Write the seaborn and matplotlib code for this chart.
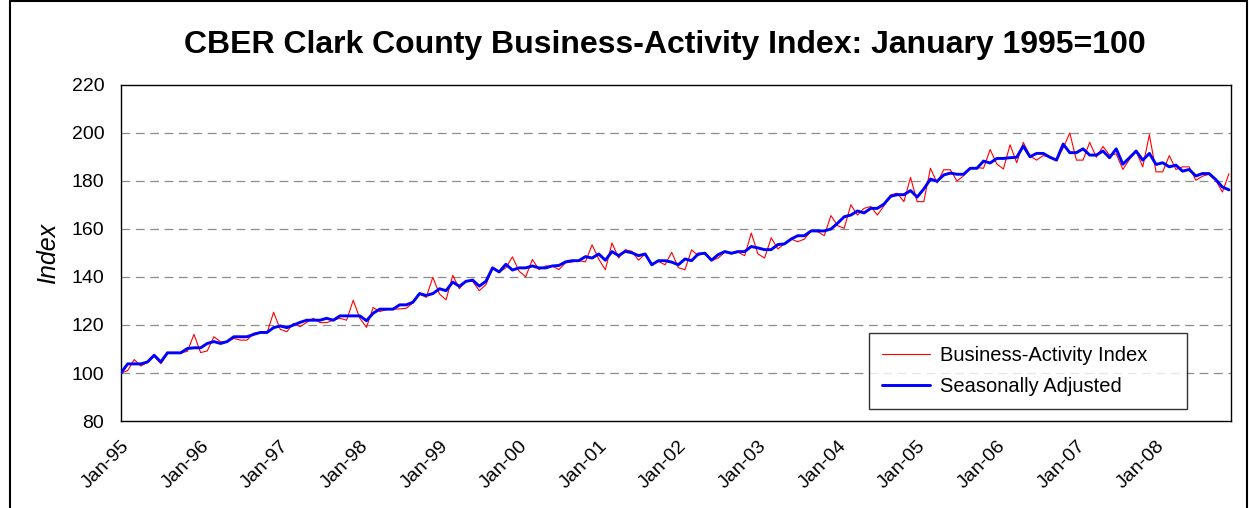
import numpy as np
import pandas as pd
import matplotlib
matplotlib.use("Agg")
import matplotlib.pyplot as plt
from matplotlib.lines import Line2D
import seaborn as sns

# ---------------- data ----------------
start_month = "1995-01"
n_months = 168  # Jan-95 .. Dec-08

business_activity = [
    100, 101, 105.6, 102.9, 104.6, 107, 103.9, 108.1, 108.4, 108.4, 109, 116.1,
    108.5, 109.2, 115.1, 113, 113, 114.4, 113.7, 113.7,
    116.6, 116.9, 116.6, 125.3, 118.2, 117.2, 120.7, 119.3, 121.1, 122.8, 121, 121,
    122, 122.8, 122,
    130.3, 122.8, 119, 127.3, 125.6, 126.4, 126.6, 126.7, 127, 129.2, 132.9, 131.5,
    139.9, 132.9, 130.5, 140.7, 135.1, 138.5, 138.2, 134.3, 136.8, 143.8, 142.1, 143.8,
    148.4, 142.4, 140.1, 147.3, 143.1, 144.6, 144.6, 143.1, 145.9,
    146.3, 146.8, 146.3, 153.4, 147.5, 143, 154.2, 147.9, 151.4, 150.7, 147, 149.6,
    145.4, 146.5, 145.1, 150.3, 143.9, 143, 151.3, 148.9, 150.3, 146.8, 147.9, 150.3,
    149.6, 150.3, 148.9, 158.3, 149.6, 147.9, 156.3, 151.7, 153.8, 155.8,
    154.7, 155.8, 159.2, 158.9, 157.2, 165.6, 161.4, 160.3, 170.1, 165.8, 168.6, 169.4,
    165.8, 169.7, 174.2, 174.9, 171.4, 181.5, 171.4, 171.4, 185.3, 179.2, 184.7, 184.7,
    180, 182.2, 185.6, 185.6, 185.3, 193.1, 187.1, 185,
    195.1, 187.6, 196.1, 190.4, 188.7, 190.6, 189.9, 188.7, 193.7, 200, 188.7, 188.7,
    196.1, 189.9, 194.4, 190.8, 191.3, 184.8, 189, 192.3, 185.9, 199.3, 183.8, 183.8,
    190.6, 184.8, 185.9, 185.9, 180.3, 182, 182.8, 180.3, 175.4, 183.1,
]

seasonally_adjusted = [
    100, 103.8, 103.8, 103.8, 104.6, 107.4, 104.6, 108.4, 108.4, 108.4, 110.2, 110.5,
    110.5, 112.3, 113.1, 112.3, 113.1, 115.1, 115.1, 115.1, 116.1, 116.9, 116.9, 118.9,
    119.6, 118.9, 120, 121.1, 122, 122, 122, 122.8, 122, 123.8, 123.8,
    123.8, 123.8, 121.8, 124.9, 126.6, 126.6, 126.6, 128.4, 128.4, 129.5, 133.1, 132.3,
    133.1, 135.1, 134.3, 137.9, 136.1, 138.2, 138.7, 136.2, 138.2, 143.8, 142.1, 145.3,
    142.9, 143.8, 143.8, 144.6, 143.8, 143.8, 144.6, 144.8, 146.3,
    146.8, 146.8, 148.5, 147.9, 149.6, 147, 150.6, 148.9, 150.7, 150.1, 148.9, 149.6,
    145.1, 146.8, 146.8, 146.2, 145.1, 147.5, 146.8, 149.6, 149.9, 147, 149.3, 150.6,
    149.9, 150.6, 150.6, 152.7, 152.1, 151.4, 151.4, 153.5, 153.8, 155.8,
    157.2, 157.2, 159.2, 159.2, 159.2, 160, 162.4, 165.1, 165.8, 167.5, 166.7, 168.6,
    168.6, 170.4, 173.6, 174.3, 174.3, 176, 173.3, 176.7, 180.8, 179.9, 182.5, 183.3,
    182.8, 182.8, 185.3, 185.3, 188.3, 187.5, 189.4, 189.4,
    189.7, 189.9, 194.6, 190.1, 191.5, 191.5, 189.9, 188.7, 195.4, 191.8, 191.8, 193.4,
    190.8, 190.8, 192.5, 189.7, 193.4, 187, 189.7, 192.5, 188.7, 191.5, 186.9, 187.6,
    185.9, 186.6, 184.1, 184.8, 182.1, 183.1, 183.1, 180.6, 177.5, 176.3,
]

tick_labels = ["Jan-95", "Jan-96", "Jan-97", "Jan-98", "Jan-99", "Jan-00", "Jan-01",
               "Jan-02", "Jan-03", "Jan-04", "Jan-05", "Jan-06", "Jan-07", "Jan-08"]
y_ticks = [80, 100, 120, 140, 160, 180, 200, 220]

title = "CBER Clark County Business-Activity Index: January 1995=100"
series_names = ["Business-Activity Index", "Seasonally Adjusted"]

# ---------------- build frame ----------------
dates = pd.date_range(start_month, periods=n_months, freq="MS")
df = pd.DataFrame({
    "pos": np.arange(n_months),
    "date": dates,
    series_names[0]: business_activity,
    series_names[1]: seasonally_adjusted,
})

# ---------------- style ----------------
sns.set_style("white")
plt.rcParams["font.family"] = ["Liberation Sans", "DejaVu Sans"]
plt.rcParams["text.color"] = "black"
plt.rcParams["axes.labelcolor"] = "black"
plt.rcParams["xtick.color"] = "black"
plt.rcParams["ytick.color"] = "black"

W, H = 1249, 508
fig = plt.figure(figsize=(W / 100, H / 100), dpi=100)
ax = fig.add_axes([121 / W, 1 - 421 / H, 1110 / W, 336 / H])

# grid
for yv in y_ticks[1:-1]:
    ax.axhline(yv, color="#8c8c8c", lw=0.9, dashes=(7, 4.5), zorder=0)

sns.lineplot(data=df, x="pos", y=series_names[0], ax=ax, color="#ff0000",
             linewidth=0.8, label=series_names[0], zorder=2)
sns.lineplot(data=df, x="pos", y=series_names[1], ax=ax, color="#0000ff",
             linewidth=2.1, label=series_names[1], zorder=3)

ax.set_xlim(0, n_months - 1 + 0.3)
ax.set_ylim(80, 220)
ax.set_yticks(y_ticks)
ax.set_yticklabels([str(v) for v in y_ticks], fontsize=14, color="black")
ax.set_xticks(np.arange(0, n_months, 12))
ax.set_xticklabels(tick_labels, fontsize=14, rotation=45, ha="right",
                   rotation_mode="anchor", color="black")
ax.tick_params(axis="both", length=0)
ax.tick_params(axis="y", pad=12)
ax.tick_params(axis="x", pad=12)
ax.set_xlabel("")
ax.set_ylabel("Index", fontsize=18, fontstyle="italic", labelpad=8.5, color="black")
for s in ax.spines.values():
    s.set_color("black")
    s.set_linewidth(1.0)

# legend
leg = ax.legend(
    handles=[Line2D([], [], color="#ff0000", lw=0.8),
             Line2D([], [], color="#0000ff", lw=2.1)],
    labels=series_names,
    loc="upper left", bbox_to_anchor=(869 / W, 1 - 409 / H, 318 / W, 76 / H),
    bbox_transform=fig.transFigure, mode="expand", borderaxespad=0, fontsize=14.5,
    frameon=True, fancybox=False, shadow=False, handlelength=2.4,
    handletextpad=0.5, labelspacing=0.6, borderpad=0.65,
)
leg.get_frame().set_edgecolor("black")
leg.get_frame().set_linewidth(1.0)
for t in leg.get_texts():
    t.set_color("black")

# title
fig.text(665 / W, 1 - 45 / H, title, ha="center", va="center",
         fontsize=23, fontweight="bold", color="black")

# outer chart border
fig.add_artist(Line2D([9.5 / W, 9.5 / W], [0, 1 - 1 / H], transform=fig.transFigure,
                      color="black", lw=1.5))
fig.add_artist(Line2D([9.5 / W, 1246.5 / W], [1 - 1 / H, 1 - 1 / H],
                      transform=fig.transFigure, color="black", lw=1.5))
fig.add_artist(Line2D([1246.5 / W, 1246.5 / W], [0, 1 - 1 / H],
                      transform=fig.transFigure, color="black", lw=1.5))

fig.savefig("out.png", dpi=100)
